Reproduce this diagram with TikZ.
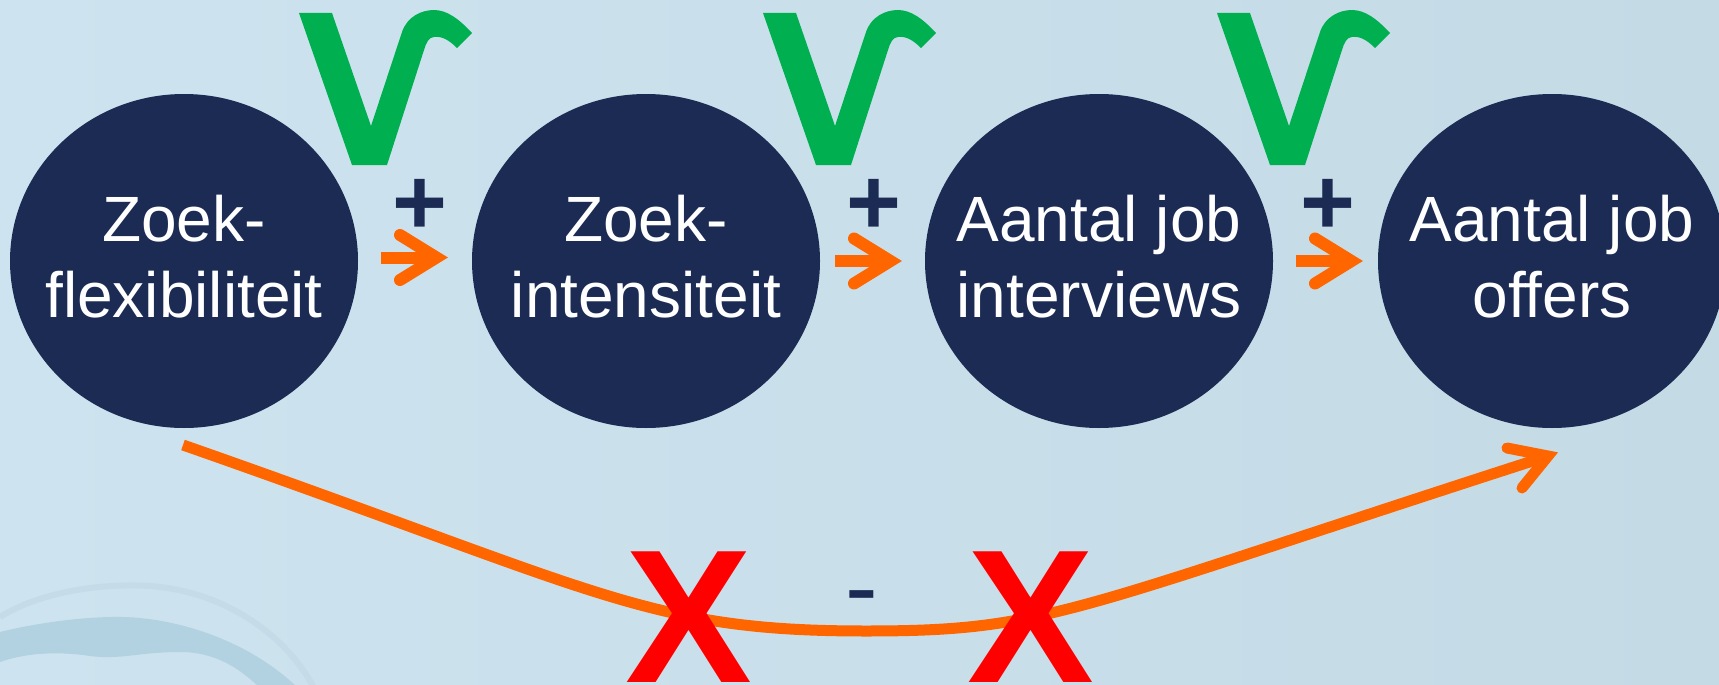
\documentclass[tikz,border=0pt]{standalone}
\usepackage{fontspec}
\setmainfont{Liberation Sans}
\usetikzlibrary{shapes.geometric}
\definecolor{navy}{HTML}{1B2B54}
\definecolor{checkgreen}{HTML}{00B050}
\definecolor{arroworange}{HTML}{FF6600}
\definecolor{xred}{HTML}{FF0000}
\definecolor{bgleft}{HTML}{CDE3EF}
\definecolor{bgright}{HTML}{C4DAE5}
\definecolor{arcband}{HTML}{B2D2E2}
\definecolor{arcring}{HTML}{C5DCE8}
\begin{document}
\begin{tikzpicture}[x=1pt,y=-1pt,
  bubble/.style={ellipse, fill=navy, draw=none, minimum width=348pt, minimum height=334pt, inner sep=0pt},
  bubbletext/.style={text=white, align=center, inner sep=0pt, font=\fontsize{64}{76}\selectfont},
  signtext/.style={text=navy, inner sep=0pt, anchor=base, font=\fontsize{98}{98}\selectfont},
  plustext/.style={text=navy, inner sep=0pt, anchor=base, font=\fontsize{94}{94}\selectfont\bfseries},
  crosstext/.style={text=xred, inner sep=0pt, anchor=base, font=\fontsize{190}{190}\selectfont\bfseries},
  orangeline/.style={draw=arroworange},
  vcheck/.pic={\fill[checkgreen] (0,0) -- (33,0) -- (72,113) -- (103,19)
     .. controls (108,4) and (122,-3) .. (135,-3)
     .. controls (148,-3) and (160,6) .. (173,20) -- (158,35)
     .. controls (150,27) and (143,23) .. (135,24)
     .. controls (130,24) and (127,30) .. (125,37) -- (88,152) -- (53,152) -- cycle;},
  smallarrow/.pic={\draw[orangeline, line width=12pt] (0,0) -- (55,0);
     \draw[orangeline, line width=12pt, line cap=round, line join=miter] (19,-22.5) -- (55.5,0) -- (19,22.5);}
]
\useasboundingbox (0,0) rectangle (1719,685);
\clip (0,0) rectangle (1719,685);
\shade[left color=bgleft, right color=bgright] (0,0) rectangle (1719,685);
% faint background decoration
\draw[arcring, line width=6pt] (0,617) .. controls (40,592) and (100,583) .. (150,586) .. controls (230,592) and (290,640) .. (315,690);
\fill[arcband] (0,632) .. controls (40,622) and (100,614) .. (140,618) .. controls (200,624) and (260,650) .. (300,690) -- (262,690) .. controls (240,668) and (215,652) .. (180,652) .. controls (140,652) and (120,660) .. (90,656) .. controls (50,650) and (20,655) .. (0,662) -- cycle;

% bubbles
\node[bubble] (c1) at (184,261) {};
\node[bubble] (c2) at (646,261) {};
\node[bubble] (c3) at (1099,261) {};
\node[bubble] (c4) at (1552,261) {};
\node[bubbletext] (t1) at ([yshift=4pt]c1.center) {Zoek-\\flexibiliteit};
\node[bubbletext] (t2) at ([yshift=4pt]c2.center) {Zoek-\\intensiteit};
\node[bubbletext] (t3) at ([yshift=4pt]c3.center) {Aantal job\\interviews};
\node[bubbletext] (t4) at ([yshift=4pt]c4.center) {Aantal job\\offers};

% check marks
\pic at (299,13) {vcheck};
\pic at (763,13) {vcheck};
\pic at (1217,13) {vcheck};

% plus signs
\node[plustext] (p1) at (420,234) {+};
\node[plustext] (p2) at (874,234) {+};
\node[plustext] (p3) at (1328,234) {+};

% small arrows
\pic at (381,257.5) {smallarrow};
\pic at (835,261) {smallarrow};
\pic at (1296,261) {smallarrow};

% big curved arrow
\coordinate (bs) at (183,445);
\coordinate (bm) at (866,631);
\coordinate (be) at (1548,456);
\draw[orangeline, line width=11pt] (bs) .. controls (603,592) and (646,631) .. (bm) .. controls (1050,631) and (1068,610.6) .. (be);
\draw[orangeline, line width=11pt, line cap=round, line join=miter] (1507,448) -- (be) -- (1522,488);

% minus and crosses
\node[signtext] (minus) at (862,620) {-};
\node[crosstext] (x1) at (688.5,682) {X};
\node[crosstext] (x2) at (1030.5,682) {X};
\end{tikzpicture}
\end{document}
